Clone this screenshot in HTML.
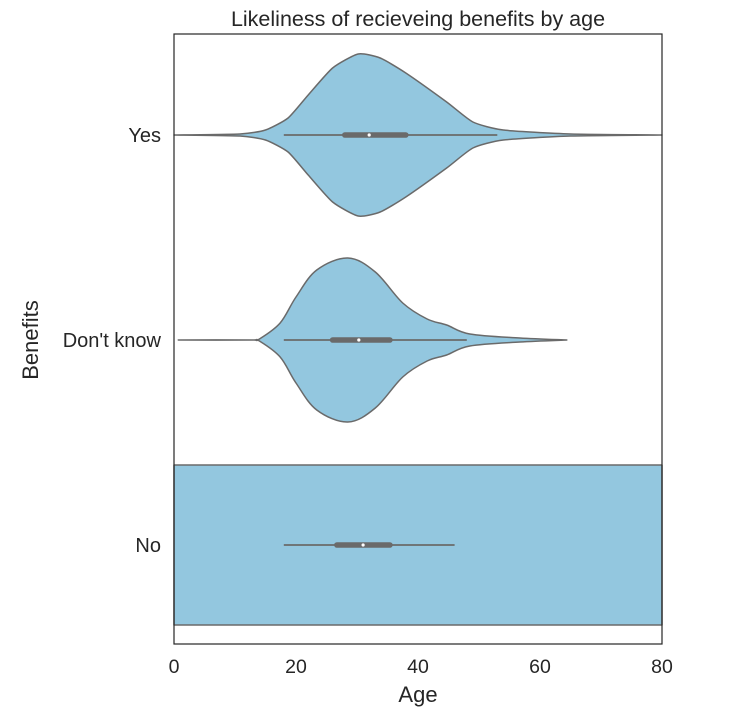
<!DOCTYPE html>
<html><head><meta charset="utf-8"><style>
body{margin:0;background:#fff}
svg{display:block;font-family:"Liberation Sans","DejaVu Sans",sans-serif}
</style></head><body>
<svg id="chart" width="738" height="722" viewBox="0 0 738 722">
<text x="418" y="26" text-anchor="middle" font-size="21.5" fill="#262626">Likeliness of recieveing benefits by age</text>
<g id="plot"></g>
<rect x="174" y="34" width="488" height="610" fill="none" stroke="#262626" stroke-width="1.2"/>
<text x="418" y="702" text-anchor="middle" font-size="22" fill="#262626">Age</text>
<text transform="translate(38,340) rotate(-90)" text-anchor="middle" font-size="22" fill="#262626">Benefits</text>
</svg>
<script>
const categories = ["Yes", "Don't know", "No"];
const xTicks = [0, 20, 40, 60, 80];
const yesAges = [0, 10.8, 15, 18.7, 22, 26, 30.2, 33.8, 38, 44.7, 49, 54, 65, 80];
const yesDensity = [0, 1, 5, 17, 40, 67, 81, 77, 62, 33, 13, 5, 1, 0];
const dkAges = [0.7, 13, 14, 17.4, 20, 23.4, 28.5, 33, 37.5, 41.5, 44.7, 48.5, 56.7, 64.4];
const dkDensity = [0, 0, 1, 17, 43, 70, 82, 68, 37, 21, 15, 6, 2, 0];
const noAges = [0, 80];
const noDensity = [80, 80];
const whiskerLow = [18, 18, 18];
const q1 = [28, 26, 26.7];
const medians = [32, 30.3, 31];
const q3 = [38, 35.4, 35.4];
const whiskerHigh = [53, 48, 46];

const NS = "http://www.w3.org/2000/svg";
const X0 = 174, X1 = 662, XMIN = 0, XMAX = 80;
const xScale = v => X0 + (v - XMIN) / (XMAX - XMIN) * (X1 - X0);
const yBand = i => 135 + i * 205;
const plot = document.getElementById('plot');
function mk(tag, attrs, parent) {
  const e = document.createElementNS(NS, tag);
  for (const k in attrs) e.setAttribute(k, attrs[k]);
  (parent || plot).appendChild(e);
  return e;
}
function spline(pts, smooth) {
  let d = '';
  for (let k = 0; k < pts.length - 1; k++) {
    const p0 = pts[Math.max(k - 1, 0)], p1 = pts[k], p2 = pts[k + 1], p3 = pts[Math.min(k + 2, pts.length - 1)];
    const c1 = [p1[0] + (p2[0] - p0[0]) * smooth, p1[1] + (p2[1] - p0[1]) * smooth];
    const c2 = [p2[0] - (p3[0] - p1[0]) * smooth, p2[1] - (p3[1] - p1[1]) * smooth];
    c1[0] = Math.min(Math.max(c1[0], Math.min(p1[0], p2[0])), Math.max(p1[0], p2[0]));
    c2[0] = Math.min(Math.max(c2[0], Math.min(p1[0], p2[0])), Math.max(p1[0], p2[0]));
    d += 'C' + c1.join(',') + ' ' + c2.join(',') + ' ' + p2.join(',');
  }
  return d;
}
const series = [[yesAges, yesDensity], [dkAges, dkDensity], [noAges, noDensity]];
const names = ['yes', 'dont-know', 'no'];
const smoothness = [0.1, 0.17, 0];
series.forEach((s, i) => {
  const [ages, dens] = s;
  const cy = yBand(i);
  const top = ages.map((a, j) => [xScale(a), cy - dens[j]]);
  const bot = ages.map((a, j) => [xScale(a), cy + dens[j]]).reverse();
  let d;
  if (i === 2) {
    d = 'M' + top.concat(bot).map(p => p[0].toFixed(1) + ',' + p[1].toFixed(1)).join('L') + 'Z';
  } else {
    d = 'M' + top[0].join(',') + spline(top, smoothness[i]) + 'L' + bot[0].join(',') + spline(bot, smoothness[i]) + 'Z';
  }
  const v = mk('path', {d: d, fill: '#93c7df', stroke: '#6a6a6a', 'stroke-width': 1.5, 'stroke-linejoin': 'round'});
  
  
  const w = mk('line', {x1: xScale(whiskerLow[i]), x2: xScale(whiskerHigh[i]), y1: cy, y2: cy, stroke: '#6a6a6a', 'stroke-width': 1.8});
  
  
  const b = mk('line', {x1: xScale(q1[i]), x2: xScale(q3[i]), y1: cy, y2: cy, stroke: '#6a6a6a', 'stroke-width': 5.5, 'stroke-linecap': 'round'});
  
  
  const m = mk('circle', {cx: xScale(medians[i]), cy: cy, r: 1.6, fill: '#fff'});
  
  
  const t = mk('text', {x: 161, y: cy + 7, 'text-anchor': 'end', 'font-size': 20, fill: '#262626'});
  t.textContent = categories[i];
  
  
});
xTicks.forEach(v => {
  const t = mk('text', {x: xScale(v), y: 673, 'text-anchor': 'middle', 'font-size': 19.5, fill: '#262626'});
  t.textContent = v;
  
  
});
</script>
</body></html>
